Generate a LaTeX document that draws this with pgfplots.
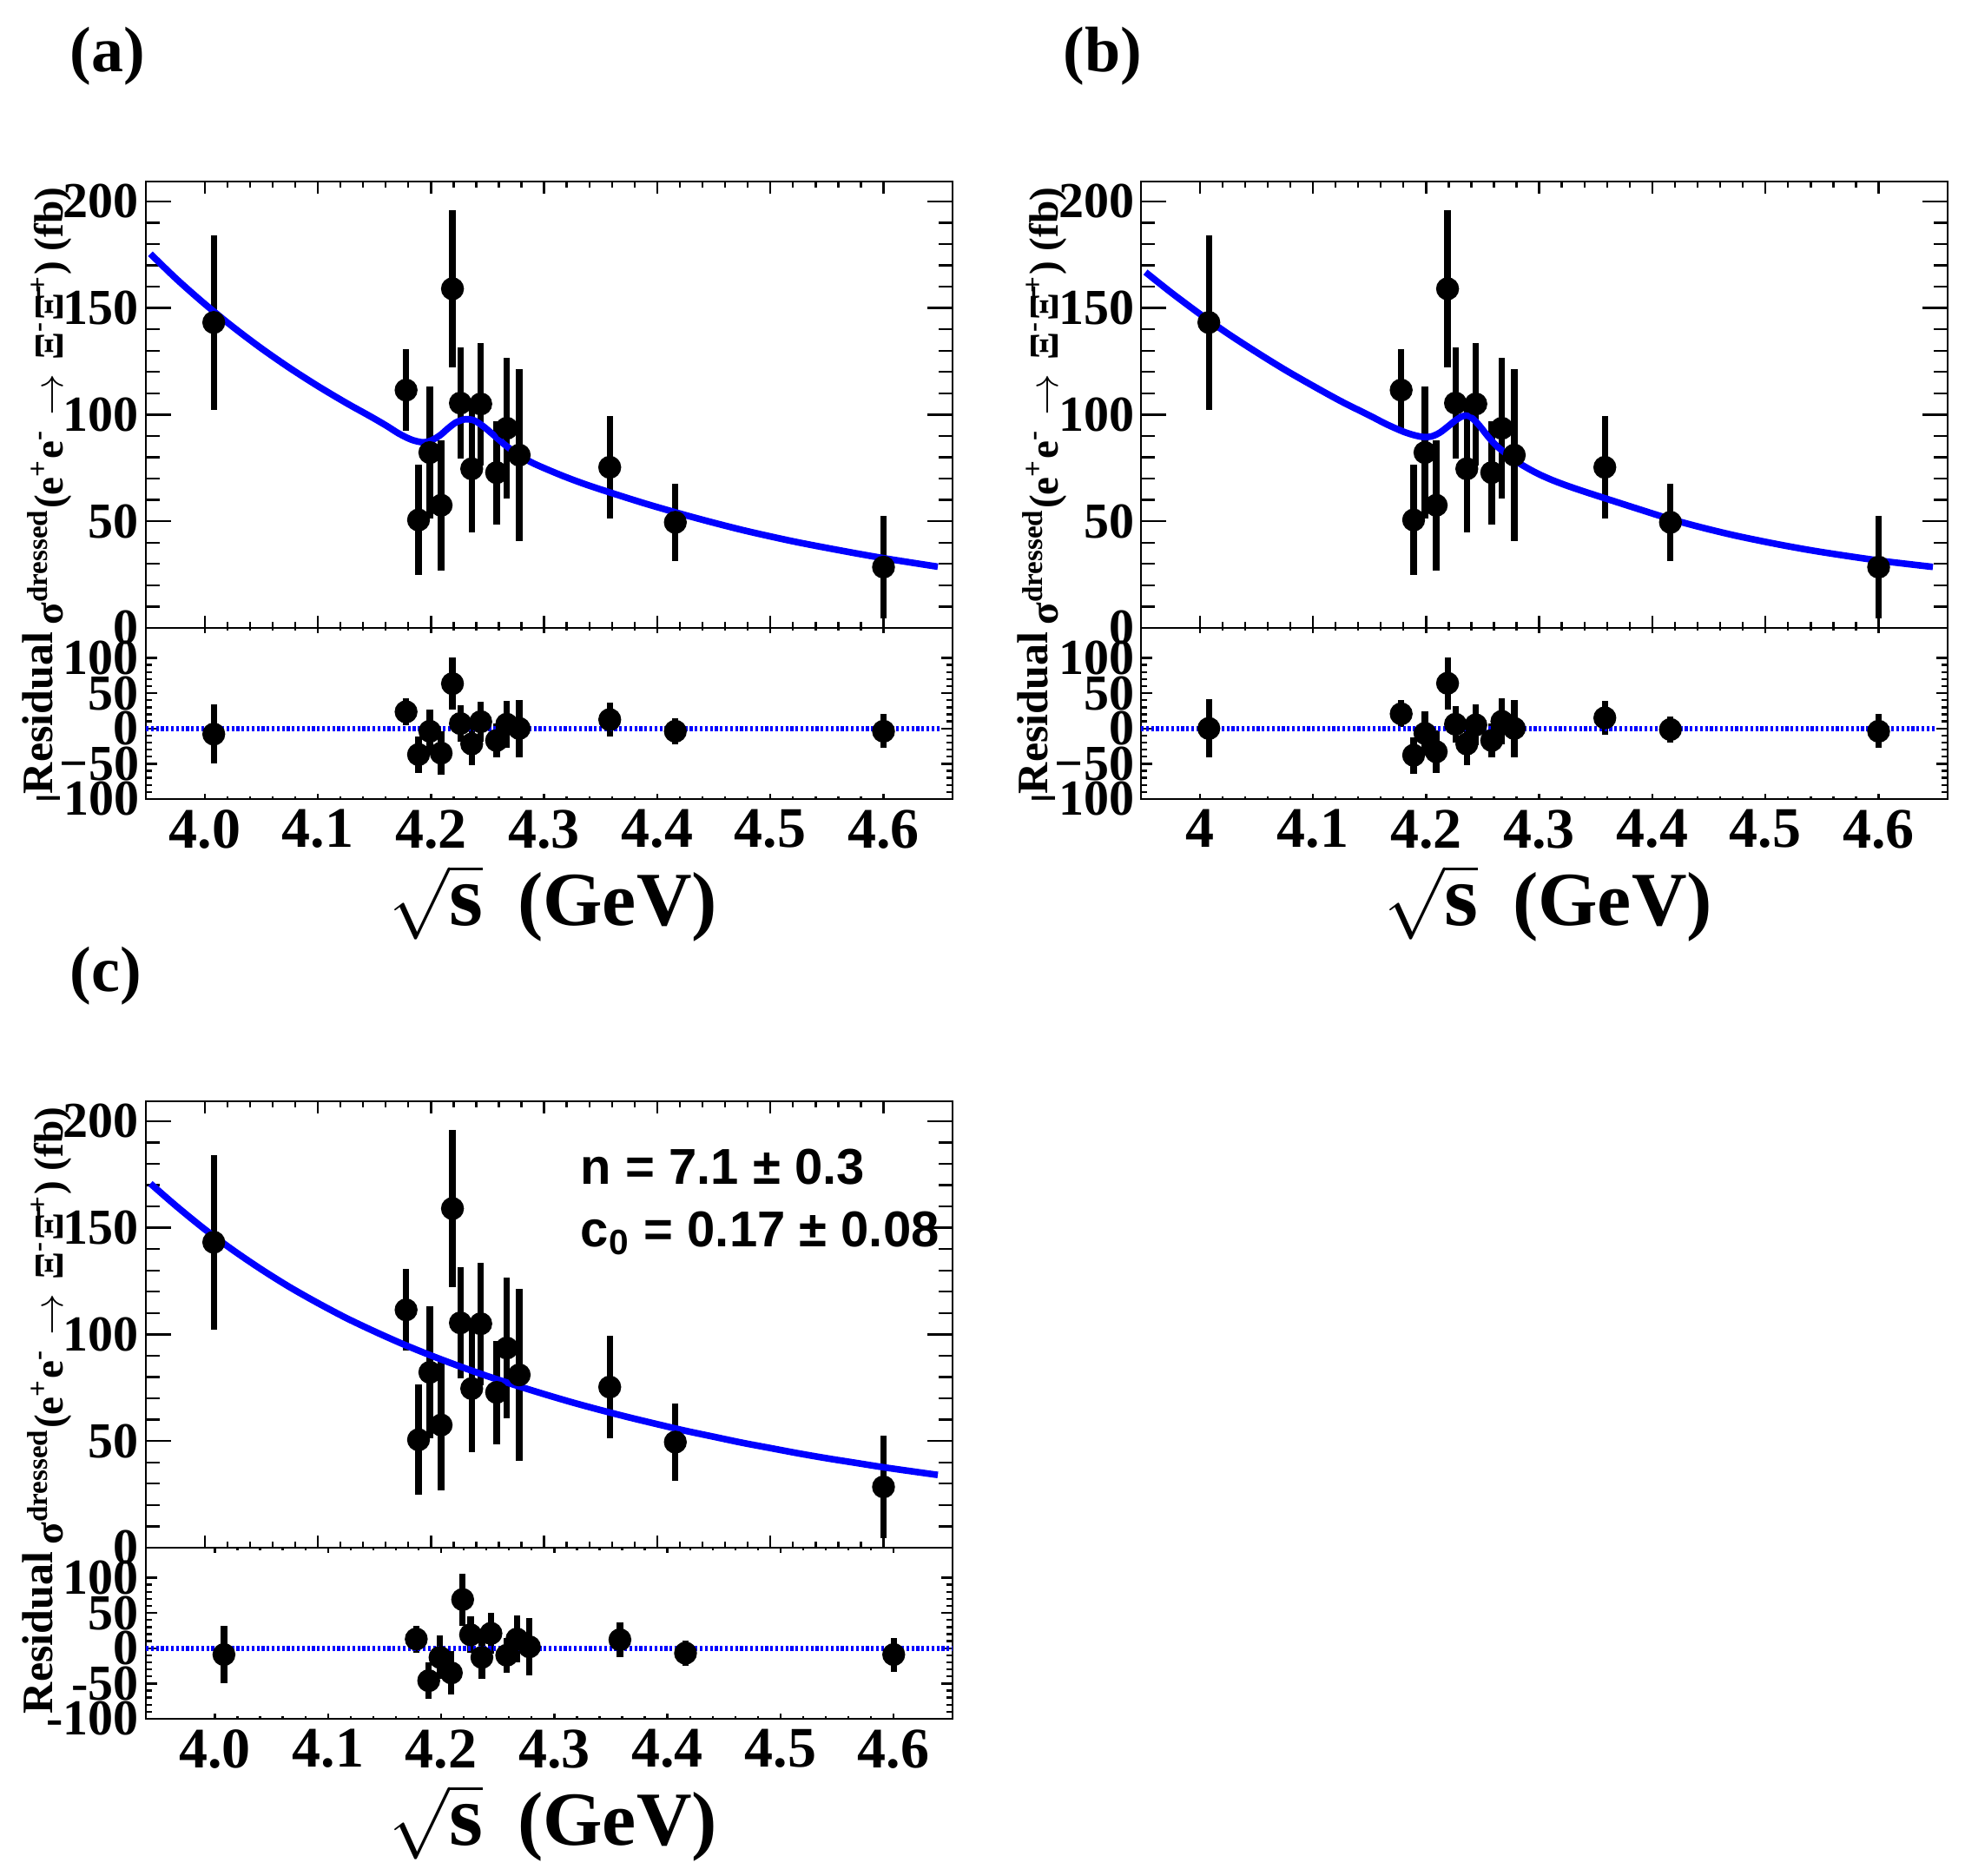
\documentclass[border=0pt]{standalone}
\usepackage{fontspec}
\setmainfont{Liberation Serif}
\newfontfamily\helv{Liberation Sans}
\usepackage{pgfplots}
\pgfplotsset{compat=1.18}
\usepackage{pgfplotstable}

% measured cross sections (same in all panels)
\pgfplotstableread{
x y ey
4.008 143.2 41.0
4.178 111.5 19.0
4.189 50.6 25.8
4.199 82.2 31.0
4.209 57.5 30.6
4.219 159.0 37.0
4.226 105.4 26.0
4.236 74.6 30.0
4.244 105.0 28.7
4.258 72.8 24.2
4.267 93.6 33.0
4.278 81.0 40.4
4.358 75.3 24.1
4.416 49.5 18.2
4.600 28.5 24.0
}\datatab

\pgfplotstableread{
x y ey
4.008 -8 42
4.178 23.6 19
4.189 -37 26
4.199 -4 31
4.209 -35 30.6
4.219 63.5 37
4.226 7 26
4.236 -22 30
4.244 9.6 28.7
4.258 -17 24.2
4.267 6 33
4.278 0 40.4
4.358 12.5 24.1
4.416 -4 18.2
4.600 -4 24
}\resa

\pgfplotstableread{
x y ey
4.008 0 41
4.178 20.7 19
4.189 -38 25.8
4.199 -7 31
4.209 -33 30.6
4.219 64 37
4.226 6 26
4.236 -22 30
4.244 5 28.7
4.258 -17 24.2
4.267 10 33
4.278 0 40.4
4.358 15 24.1
4.416 -1.5 18.2
4.600 -4 24
}\resb

\pgfplotstableread{
x y ey
4.008 -9 41
4.178 13 19
4.189 -46 25.8
4.199 -13 31
4.209 -35 30.6
4.219 69 37
4.226 19 26
4.236 -13 30
4.244 21 28.7
4.258 -10 24.2
4.267 13 33
4.278 2 40.4
4.358 12 24.1
4.416 -7 18.2
4.600 -9 24
}\resc

\pgfplotstableread{
x y
3.952 175.4
3.975 163.6
4.000 151.9
4.025 141.1
4.050 131.1
4.075 121.9
4.100 113.4
4.125 105.5
4.145 99.6
4.160 95.0
4.172 91.0
4.183 88.2
4.193 87.0
4.200 87.8
4.208 90.3
4.215 93.5
4.222 96.3
4.230 97.8
4.238 97.3
4.246 94.6
4.255 90.6
4.265 86.0
4.275 82.0
4.290 77.3
4.315 71.6
4.335 67.6
4.360 63.2
4.390 58.2
4.420 53.6
4.450 49.3
4.480 45.3
4.520 40.6
4.560 36.5
4.600 32.7
4.648 28.7
}\fita

\pgfplotstableread{
x y
3.952 166.8
3.975 157.1
4.000 147.2
4.025 137.9
4.050 129.3
4.075 121.1
4.100 113.5
4.125 106.2
4.150 99.6
4.165 95.5
4.180 92.0
4.190 90.3
4.198 89.5
4.205 89.8
4.212 91.5
4.219 94.3
4.226 97.3
4.232 99.2
4.237 99.5
4.242 97.8
4.248 94.3
4.255 89.6
4.262 85.5
4.270 82.0
4.280 78.0
4.290 74.8
4.300 72.0
4.312 69.2
4.325 66.6
4.340 63.9
4.358 60.8
4.385 56.2
4.415 51.2
4.445 46.9
4.475 43.1
4.510 39.3
4.540 36.4
4.570 33.9
4.600 31.6
4.625 30.0
4.648 28.6
}\fitb

\pgfplotstableread{
x y
3.952 170.7
3.975 160.1
4.000 149.3
4.025 139.5
4.050 130.5
4.075 122.2
4.100 114.7
4.125 107.7
4.150 101.4
4.175 95.5
4.200 90.1
4.225 85.1
4.250 80.4
4.275 76.1
4.300 72.0
4.325 68.1
4.350 64.5
4.375 61.1
4.400 57.9
4.425 54.8
4.450 52.0
4.475 49.2
4.500 46.7
4.525 44.2
4.550 41.9
4.575 39.8
4.600 37.7
4.625 35.8
4.648 34.1
}\fitc

\pgfplotsset{
  common/.style={
    scale only axis, width=232.25pt, anchor=south west,
    axis line style={line width=0.6pt},
    every tick/.style={black, line width=0.6pt},
    minor x tick num=4, minor y tick num=4,
    xtick={4.0,4.1,4.2,4.3,4.4,4.5,4.6},
    yticklabel style={font=\fontsize{14.5}{14.5}\selectfont\bfseries, inner sep=0pt, xshift=-1.8pt},
    xticklabel style={font=\fontsize{16.5}{16.5}\selectfont\bfseries, inner sep=0pt, yshift=-2.9pt},
  },
  mainax/.style={
    common, height=128.5pt,
    xmin=3.948, xmax=4.661, ymin=0, ymax=209.3,
    xticklabels={},
    ytick={0,50,100,150,200}, yticklabels={0,50,100,150,200},
    major tick length=7.3pt, minor tick length=3.9pt,
    x tick style={/pgfplots/major tick length=3.6pt,/pgfplots/minor tick length=1.8pt},
  },
  resax/.style={
    common, height=49.25pt,
    xmin=3.948, xmax=4.661, ymin=-100, ymax=142.5,
    ytick={-100,-50,0,50,100},
    major tick length=3.3pt, minor tick length=1.7pt,
    x tick style={/pgfplots/major tick length=1.5pt,/pgfplots/minor tick length=0.8pt},
  },
  datastyle/.style={black, only marks, mark=*, mark size=3.1pt,
    mark options={fill=black, draw=black},
    error bars/.cd, y dir=both, y explicit,
    error bar style={line width=1.8pt, black}, error mark=none},
  fitstyle/.style={blue, line width=1.9pt, no marks, smooth, tension=0.5},
  zerostyle/.style={blue, line width=1.6pt, dash pattern=on 0.8pt off 0.65pt, no marks},
}

\newcommand{\ylab}{σ\textsuperscript{dressed}(e\textsuperscript{+}e\textsuperscript{-}\hspace{4pt}$\rightarrow$\hspace{4pt}Ξ\textsuperscript{-}\=Ξ\textsuperscript{+}) (fb)}
\newcommand{\xlab}{$\sqrt{\mbox{\fontsize{25}{25}\selectfont\bfseries s}}$\hspace{10pt}(GeV)}

\begin{document}
\begin{tikzpicture}
\path[use as bounding box] (0,0) rectangle (565.75pt,540pt);

% ---------------- panel (a)
\begin{axis}[mainax, at={(42pt,359.25pt)}]
  \addplot[datastyle] table[x=x, y=y, y error=ey]{\datatab};
  \addplot[fitstyle] table[x=x, y=y]{\fita};
\end{axis}
\begin{axis}[resax, at={(42pt,310pt)},
    xticklabels={4.0,4.1,4.2,4.3,4.4,4.5,4.6},
    yticklabels={−100,−50,0,50,100}]
  \addplot[datastyle] table[x=x, y=y, y error=ey]{\resa};
  \addplot[zerostyle] coordinates {(3.948,0) (4.650,0)};
\end{axis}
\node[rotate=90, anchor=base east, inner sep=0pt, font=\fontsize{11.8}{11.8}\selectfont\bfseries] at (18pt,486.25pt) {\ylab};
\node[rotate=90, anchor=base, inner sep=0pt, font=\fontsize{12.5}{12.5}\selectfont\bfseries] at (15pt,334.75pt) {Residual};
\node[anchor=base, inner sep=0pt, font=\fontsize{22}{22}\selectfont\bfseries] at (159.25pt,273.5pt) {\xlab};
\node[anchor=base west, inner sep=0pt, font=\fontsize{18.5}{18.5}\selectfont\bfseries] at (20pt,519.4pt) {(a)};

% ---------------- panel (b)
\begin{axis}[mainax, at={(328.5pt,359.25pt)}]
  \addplot[datastyle] table[x=x, y=y, y error=ey]{\datatab};
  \addplot[fitstyle] table[x=x, y=y]{\fitb};
\end{axis}
\begin{axis}[resax, at={(328.5pt,310pt)},
    xticklabels={4,4.1,4.2,4.3,4.4,4.5,4.6},
    yticklabels={−100,−50,0,50,100}]
  \addplot[datastyle] table[x=x, y=y, y error=ey]{\resb};
  \addplot[zerostyle] coordinates {(3.948,0) (4.650,0)};
\end{axis}
\node[rotate=90, anchor=base east, inner sep=0pt, font=\fontsize{11.8}{11.8}\selectfont\bfseries] at (304.5pt,486.25pt) {\ylab};
\node[rotate=90, anchor=base, inner sep=0pt, font=\fontsize{12.5}{12.5}\selectfont\bfseries] at (301.5pt,334.75pt) {Residual};
\node[anchor=base, inner sep=0pt, font=\fontsize{22}{22}\selectfont\bfseries] at (445.75pt,273.5pt) {\xlab};
\node[anchor=base west, inner sep=0pt, font=\fontsize{18.5}{18.5}\selectfont\bfseries] at (306pt,519.4pt) {(b)};

% ---------------- panel (c)
\begin{axis}[mainax, at={(42pt,94.5pt)}]
  \addplot[datastyle] table[x=x, y=y, y error=ey]{\datatab};
  \addplot[fitstyle] table[x=x, y=y]{\fitc};
\end{axis}
\begin{axis}[resax, at={(42pt,45.25pt)}, xmin=3.939, xmax=4.652,
    xticklabels={4.0,4.1,4.2,4.3,4.4,4.5,4.6},
    yticklabels={-100,-50,0,50,100}]
  \addplot[datastyle] table[x=x, y=y, y error=ey]{\resc};
  \addplot[zerostyle] coordinates {(3.939,0) (4.652,0)};
\end{axis}
\node[rotate=90, anchor=base east, inner sep=0pt, font=\fontsize{11.8}{11.8}\selectfont\bfseries] at (18pt,221.5pt) {\ylab};
\node[rotate=90, anchor=base, inner sep=0pt, font=\fontsize{12.5}{12.5}\selectfont\bfseries] at (15pt,70pt) {Residual};
\node[anchor=base, inner sep=0pt, font=\fontsize{22}{22}\selectfont\bfseries] at (159.25pt,8.75pt) {\xlab};
\node[anchor=base west, inner sep=0pt, font=\fontsize{18.5}{18.5}\selectfont\bfseries] at (20pt,254.65pt) {(c)};
\node[anchor=base west, inner sep=0pt, font=\helv\bfseries\fontsize{14.5}{14.5}\selectfont] at (167pt,199pt) {n = 7.1 ± 0.3};
\node[anchor=base west, inner sep=0pt, font=\helv\bfseries\fontsize{14.5}{14.5}\selectfont] at (167pt,181pt) {c\textsubscript{0} = 0.17 ± 0.08};
\end{tikzpicture}
\end{document}
